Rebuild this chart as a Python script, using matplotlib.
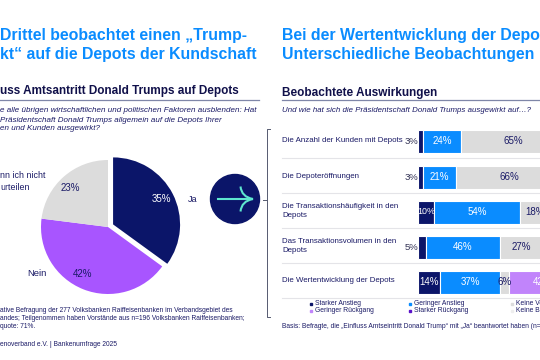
import matplotlib
matplotlib.use("Agg")
import matplotlib.pyplot as plt
from matplotlib.patches import Circle, PathPatch
from matplotlib.path import Path

plt.rcParams['font.family'] = ['Liberation Sans', 'DejaVu Sans']

#pie
pie_labels = ["Ja", "Nein", "nn ich nicht\nurteilen"]
pie_values = [35, 42, 23]

#bars
rows = ["Die Anzahl der Kunden mit Depots", "Die Depoteröffnungen",
        "Die Transaktionshäufigkeit in den\nDepots",
        "Das Transaktionsvolumen in den\nDepots", "Die Wertentwicklung der Depots"]
starker_anstieg = [3, 3, 10, 5, 14]
geringer_anstieg = [24, 21, 54, 46, 37]
keine_veraenderung = [65, 66, 18, 27, 6]
geringer_rueckgang = [5, 5, 12, 16, 42]

NAVY = "#0b1569"
BLUE = "#0a8cff"
GRAY = "#dcdcdc"
PURPLE = "#c184fb"
PIE_PURPLE = "#a855ff"
TXT = "#1a1a66"
TEAL = "#5ee6cf"
W, H = 540, 360

fig = plt.figure(figsize=(5.4, 3.6), dpi=100)
bg = fig.add_axes([0, 0, 1, 1])
bg.set_xlim(0, W)
bg.set_ylim(H, 0)
bg.axis("off")

#titel
bg.text(0, 35.5, "Drittel beobachtet einen „Trump-", fontsize=11.4, fontweight="bold", color=BLUE, va="center")
bg.text(0, 54.5, "kt“ auf die Depots der Kundschaft", fontsize=11.4, fontweight="bold", color=BLUE, va="center")
bg.text(282, 35.5, "Bei der Wertentwicklung der Depo", fontsize=11.4, fontweight="bold", color=BLUE, va="center")
bg.text(282, 54.5, "Unterschiedliche Beobachtungen", fontsize=11.4, fontweight="bold", color=BLUE, va="center")

#linke seite
bg.text(0, 91, "uss Amtsantritt Donald Trumps auf Depots", fontsize=8.5, fontweight="bold", color="#10104a", va="center")
bg.plot([0, 259], [100, 100], color="#7f86a8", lw=0.9)
for y, s in zip([110, 120, 129], ["e alle übrigen wirtschaftlichen und politischen Faktoren ausblenden: Hat",
                                  "Präsidentschaft Donald Trumps allgemein auf die Depots Ihrer",
                                  "en und Kunden ausgewirkt?"]):
    bg.text(0, y, s, fontsize=5.75, style="italic", color=TXT, va="center")
bg.text(0, 176, "nn ich nicht", fontsize=6.4, color=TXT, va="center")
bg.text(0, 188, "urteilen", fontsize=6.4, color=TXT, va="center")
bg.text(193, 199, pie_labels[0], fontsize=6.6, color=TXT, ha="center", va="center")
bg.text(37, 274, pie_labels[1], fontsize=6.8, color=TXT, ha="center", va="center")
for y, s in zip([310, 318, 326], ["ative Befragung der 277 Volksbanken Raiffeisenbanken im Verbandsgebiet des",
                                  "andes; Teilgenommen haben Vorstände aus n=196 Volksbanken Raiffeisenbanken;",
                                  "quote: 71%."]):
    bg.text(0, y, s, fontsize=4.8, color=TXT, va="center")
bg.text(0, 344, "enoverband e.V. | Bankenumfrage 2025", fontsize=4.8, color=TXT, va="center")

#kreis mit pfeil
bg.add_patch(Circle((235, 199), 24.5, color=NAVY, zorder=2))
bg.plot([218, 252], [199, 199], color=TEAL, lw=1.5, zorder=3)
for y0 in [186.5, 211.5]:
    p = Path([(240.5, y0), (241.5, 197 if y0 < 199 else 201), (253, 199)], [Path.MOVETO, Path.CURVE3, Path.CURVE3])
    bg.add_patch(PathPatch(p, fc="none", ec=TEAL, lw=1.5, zorder=3))

#klammer
bg.plot([270, 267, 267, 270], [129, 129, 317, 317], color="#555a70", lw=0.7)
bg.plot([263, 267], [199.5, 199.5], color="#555a70", lw=0.7)

#rechte seite
bg.text(282, 93, "Beobachtete Auswirkungen", fontsize=8.5, fontweight="bold", color="#10104a", va="center")
bg.plot([282, 540], [100, 100], color="#7f86a8", lw=0.9)
bg.text(282, 110, "Und wie hat sich die Präsidentschaft Donald Trumps ausgewirkt auf…?", fontsize=5.7,
        style="italic", color=TXT, va="center")
bg.text(282, 326, "Basis: Befragte, die „Einfluss Amtseintritt Donald Trump“ mit „Ja“ beantwortet haben (n=", fontsize=4.8,
        color=TXT, va="center")

row_y = [141.5, 177, 212, 247, 282]
for y, s in zip(row_y, rows):
    bg.text(282, y - 1, s, fontsize=5.7, color=TXT, va="center", linespacing=1.35)
for y in row_y:
    bg.plot([282, 540], [y + 16, y + 16], color="#e4e4e8", lw=0.8)

#legende
leg = [(311, 303.5, "Starker Anstieg", NAVY), (311, 310.5, "Geringer Rückgang", PURPLE),
       (410, 303.5, "Geringer Anstieg", BLUE), (410, 310.5, "Starker Rückgang", "#5b12c9"),
       (512, 303.5, "Keine Ve", GRAY), (512, 310.5, "Keine Be", "#eeeeee")]
for x, y, s, c in leg:
    bg.plot([x], [y], marker="s", ms=1.8, color=c, ls="none")
    bg.text(x + 4, y, s, fontsize=4.9, color=TXT, va="center")

#pie
ax_pie = fig.add_axes([(108 - 67) / W, 1 - (227 + 67) / H, 134 / W, 134 / H], zorder=1)
wedges, _ = ax_pie.pie(pie_values, startangle=90, counterclock=False,
                       colors=[NAVY, PIE_PURPLE, GRAY], explode=[0.085, 0, 0], radius=1)
ax_pie.set_xlim(-1, 1)
ax_pie.set_ylim(-1, 1)
ax_pie.patch.set_visible(False)
for w in wedges:
    w.set_clip_on(False)
pct_pos = [(161, 199, "white"), (83, 274, TXT), (70, 188, TXT)]
for (x, y, c), v in zip(pct_pos, pie_values):
    fig.text(x / W, 1 - y / H, str(v) + "%", fontsize=7, color=c, ha="center", va="center", zorder=5)

#balken
ax = fig.add_axes([418 / W, 0, (W - 418) / W, 1], zorder=1)
ax.set_ylim(H, 0)
ax.set_xlim(0, (W - 418) / 1.6)
ax.axis("off")
left = [0] * 5
series = [(starker_anstieg, NAVY), (geringer_anstieg, BLUE), (keine_veraenderung, GRAY), (geringer_rueckgang, PURPLE)]
for vals, c in series:
    ax.barh(row_y, vals, left=left, height=23, color=c, edgecolor="white", linewidth=0.8)
    for i, v in enumerate(vals):
        if c == PURPLE and i != 4:
            left[i] += v
            continue
        if c == NAVY and v <= 5:
            #schmal, links neben dem balken
            ax.text(0.2, row_y[i], str(v) + "%", fontsize=6.8, color="#333355", ha="right", va="center", clip_on=False)
        else:
            tc = TXT if c == GRAY else "white"
            fs = 6.4 if v == 10 else 7
            ax.text(left[i] + v / 2, row_y[i], str(v) + "%", fontsize=fs, color=tc, ha="center", va="center")
        left[i] += v

fig.savefig("out.png", dpi=100)
